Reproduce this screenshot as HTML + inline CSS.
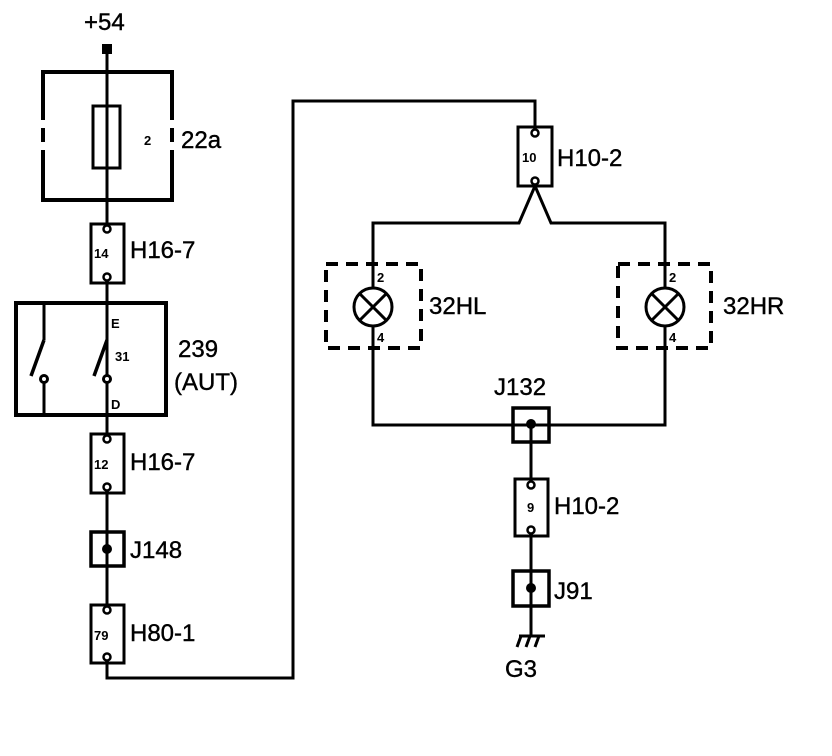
<!DOCTYPE html>
<html><head><meta charset="utf-8"><style>
html,body{margin:0;padding:0;background:#fff;}
svg{display:block;}
text{font-family:"Liberation Sans",Arial,sans-serif;fill:#000;}
</style></head><body>
<svg width="832" height="756" viewBox="0 0 832 756" xmlns="http://www.w3.org/2000/svg">
<g fill="none" stroke="#000" stroke-width="3">
<line x1="107" y1="50" x2="107" y2="678"/>
<polyline points="107,662 107,678 293,678 293,101 535,101 535,127"/>
<path d="M43,120 V72 H172 V120 M172,150 V200 H43 V150" stroke-width="4"/>
<line x1="43" y1="128" x2="43" y2="142" stroke-width="4"/>
<line x1="172" y1="128" x2="172" y2="142" stroke-width="4"/>
<rect x="93" y="106" width="27" height="62" fill="#fff"/>
<line x1="107" y1="100" x2="107" y2="174"/>
<rect x="16" y="303" width="150" height="112" stroke-width="4"/>
<line x1="44" y1="303" x2="44" y2="340"/>
<line x1="44" y1="383" x2="44" y2="415"/>
<line x1="44" y1="340" x2="31" y2="376" stroke-width="3.5"/>
<line x1="107" y1="340" x2="94" y2="376" stroke-width="3.5"/>
<circle cx="44" cy="379" r="3.5" fill="#fff"/>
<circle cx="107" cy="379" r="3.5" fill="#fff"/>
<polyline points="535,186 519,223 373,223 373,425 665,425 665,223 551,223 535,186"/>
<line x1="531" y1="425" x2="531" y2="635"/>
<rect x="326" y="264" width="95" height="84" stroke-width="4" stroke-dasharray="12,8"/>
<rect x="618" y="264" width="93" height="84" stroke-width="4" stroke-dasharray="12,8"/>
<circle cx="373" cy="307" r="19" fill="#fff"/>
<line x1="360" y1="294" x2="386" y2="320"/><line x1="386" y1="294" x2="360" y2="320"/>
<circle cx="665" cy="307" r="19" fill="#fff"/>
<line x1="652" y1="294" x2="678" y2="320"/><line x1="678" y1="294" x2="652" y2="320"/>
<g fill="#fff">
<rect x="91" y="224" width="33" height="59"/>
<rect x="91" y="434" width="33" height="59"/>
<rect x="91" y="605" width="33" height="58"/>
<rect x="518" y="127" width="34" height="59"/>
<rect x="515" y="479" width="33" height="57"/>
</g>
<g fill="#fff" stroke-width="2.5">
<circle cx="107" cy="229" r="3.5"/><circle cx="107" cy="277" r="3.5"/>
<circle cx="107" cy="439" r="3.5"/><circle cx="107" cy="487" r="3.5"/>
<circle cx="107" cy="610" r="3.5"/><circle cx="107" cy="657" r="3.5"/>
<circle cx="535" cy="133" r="3.5"/><circle cx="535" cy="181" r="3.5"/>
<circle cx="531" cy="485" r="3.5"/><circle cx="531" cy="530" r="3.5"/>
</g>
<rect x="91" y="532" width="33" height="34" stroke-width="3.5"/>
<rect x="513" y="408" width="36" height="34" stroke-width="3.5"/>
<rect x="513" y="571" width="36" height="35" stroke-width="3.5"/>
<line x1="519" y1="636" x2="545" y2="636"/>
<line x1="521" y1="636" x2="517" y2="647"/>
<line x1="530" y1="636" x2="526" y2="647"/>
<line x1="539" y1="636" x2="535" y2="647"/>
</g>
<rect x="102" y="44" width="10" height="10" fill="#000"/>
<circle cx="107" cy="549" r="5" fill="#000"/>
<circle cx="531" cy="424" r="5" fill="#000"/>
<circle cx="531" cy="588" r="5" fill="#000"/>
<g font-size="24" stroke="#000" stroke-width="0.4">
<text x="84" y="30">+54</text>
<text x="181" y="148">22a</text>
<text x="130" y="258">H16-7</text>
<text x="178" y="357">239</text>
<text x="174" y="390">(AUT)</text>
<text x="130" y="470">H16-7</text>
<text x="130" y="558">J148</text>
<text x="130" y="641">H80-1</text>
<text x="557" y="166">H10-2</text>
<text x="429" y="314">32HL</text>
<text x="723" y="314">32HR</text>
<text x="494" y="395">J132</text>
<text x="554" y="514">H10-2</text>
<text x="554" y="599">J91</text>
<text x="505" y="677">G3</text>
</g>
<g font-size="13" font-weight="bold">
<text x="144" y="145">2</text>
<text x="94" y="258">14</text>
<text x="94" y="469">12</text>
<text x="94" y="640">79</text>
<text x="522" y="162">10</text>
<text x="527" y="512">9</text>
<text x="111" y="328">E</text>
<text x="115" y="361">31</text>
<text x="111" y="409">D</text>
<text x="377" y="282">2</text>
<text x="377" y="342">4</text>
<text x="669" y="282">2</text>
<text x="669" y="342">4</text>
</g>
</svg>
</body></html>
